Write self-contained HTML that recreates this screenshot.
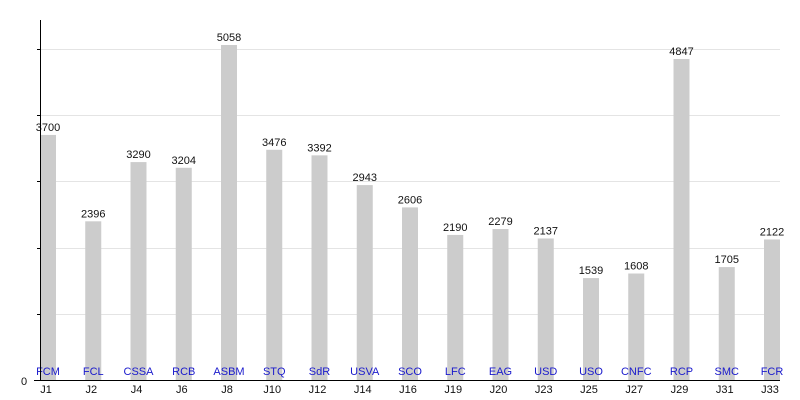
<!DOCTYPE html>
<html><head><meta charset="utf-8"><style>
html,body{margin:0;padding:0;background:#fff;}
svg{display:block;font-family:"Liberation Sans",sans-serif;}
</style></head><body>
<svg id="chart" width="800" height="400" viewBox="0 0 800 400" xmlns="http://www.w3.org/2000/svg"></svg>
<script>
const categories = ["J1","J2","J4","J6","J8","J10","J12","J14","J16","J19","J20","J23","J25","J27","J29","J31","J33"];
const shortNames = ["FCM","FCL","CSSA","RCB","ASBM","STQ","SdR","USVA","SCO","LFC","EAG","USD","USO","CNFC","RCP","SMC","FCR"];
const values = [3700,2396,3290,3204,5058,3476,3392,2943,2606,2190,2279,2137,1539,1608,4847,1705,2122];
const gridValues = [1000,2000,3000,4000,5000];

const svg = document.getElementById('chart');
const NS = 'http://www.w3.org/2000/svg';
const x0 = 40, step = 45.25, barW = 16, baseY = 380, pxPerUnit = 335/5058;
const yScale = v => baseY - v*pxPerUnit;
const xScale = i => x0 + i*step;
function mk(tag, attrs, parent){const e=document.createElementNS(NS,tag);for(const k in attrs)e.setAttribute(k,attrs[k]);(parent||svg).appendChild(e);return e;}

const grid = mk('g',{});


gridValues.forEach(v=>{
  const y = Math.round(yScale(v))+0.5;
  const l = mk('line',{x1:40,x2:780,y1:y,y2:y,stroke:'#e4e4e4','stroke-width':1},grid);
  
  
  const t = mk('line',{x1:37,x2:40,y1:y,y2:y,stroke:'#000','stroke-width':1},grid);
  
  
});

const bars = mk('g',{});


values.forEach((v,i)=>{
  const x = xScale(i), y = yScale(v), cx = x + barW/2;
  const r = mk('rect',{x:x,y:y,width:barW,height:baseY-y,fill:'#cccccc'},bars);
  
  
  const vl = mk('text',{x:cx,y:y-4,'font-size':11,'text-anchor':'middle',fill:'#111'},bars);
  vl.textContent = v;
  
  
  const sn = mk('text',{x:cx,y:375,'font-size':11,'text-anchor':'middle',fill:'#1a1acc'},bars);
  sn.textContent = shortNames[i];
  
  
  const xl = mk('text',{x:cx-2,y:393,'font-size':11,'text-anchor':'middle',fill:'#111'},bars);
  xl.textContent = categories[i];
  
  
});

const ya = mk('line',{x1:40.5,x2:40.5,y1:20,y2:381,stroke:'#000','stroke-width':1});


const xa = mk('line',{x1:34,x2:780,y1:380.5,y2:380.5,stroke:'#000','stroke-width':1});


const zero = mk('text',{x:24,y:385,'font-size':11,'text-anchor':'middle',fill:'#111'});
zero.textContent='0';


</script>
</body></html>
